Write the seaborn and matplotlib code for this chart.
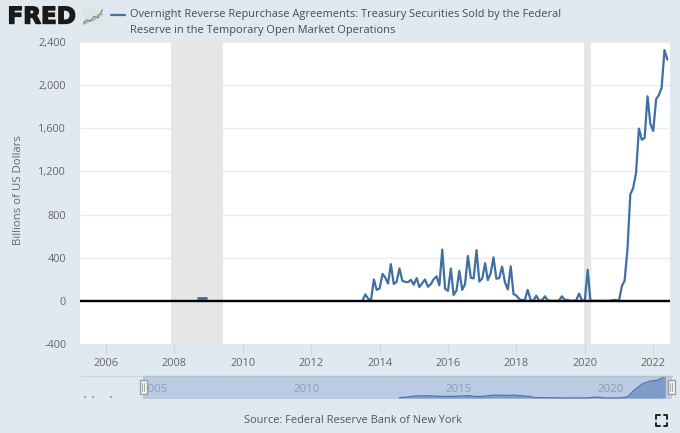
import matplotlib
matplotlib.use("Agg")
import matplotlib.pyplot as plt
import matplotlib.dates as mdates
import matplotlib.patheffects as pe
from matplotlib.patches import Rectangle
import numpy as np
import pandas as pd
import seaborn as sns

title_lines = ["Overnight Reverse Repurchase Agreements: Treasury Securities Sold by the Federal",
               "Reserve in the Temporary Open Market Operations"]
y_label = "Billions of US Dollars"
source = "Source: Federal Reserve Bank of New York"
y_ticks = [-400, 0, 400, 800, 1200, 1600, 2000, 2400]
x_tick_years = [2006, 2008, 2010, 2012, 2014, 2016, 2018, 2020, 2022]
nav_years = [2005, 2010, 2015, 2020]

recessions = [("2007-12-01", "2009-06-01"), ("2019-12-20", "2020-03-10")]
blip_dates = ["2008-09-15", "2008-12-01"]
blip_values = [25, 25]

rrp_values = [
    0, 60, 20, 5, 198, 102, 115, 250, 218, 160, 340, 157, 176, 300, 186, 176, 173, 195, 150, 211,
    128, 163, 198, 131, 154, 200, 227, 144, 475, 112, 93, 300, 54, 96, 278, 102, 154, 416, 214, 208,
    470, 179, 208, 349, 192, 256, 403, 205, 211, 317, 170, 106, 320, 64, 48, 16, 6, 10, 102, 10,
    0, 48, 0, 6, 42, 6, 0, 0, 0, 2, 42, 10, 8, 0, 0, 5, 67, 6, 0, 288,
    5, 0, 0, 0, 0, 0, 0, 0, 8, 6, 5, 140, 186, 480, 986, 1048, 1184, 1597, 1494, 1510,
    1897, 1643, 1575, 1870, 1906, 1978, 2325, 2238,
]
rrp_dates = pd.date_range(end="2022-06-01", periods=len(rrp_values), freq="MS")
rrp = pd.DataFrame({"date": rrp_dates, "value": rrp_values})
blip = pd.DataFrame({"date": pd.to_datetime(blip_dates), "value": blip_values})
rrp_q = rrp.set_index("date")["value"].resample("QS").mean().reset_index()

old_nav_dates = ["2003-03-01", "2003-06-01", "2004-01-01"]
old_nav_values = [110, 110, 110]

sns.set_theme(style="white")
plt.rcParams["font.family"] = ["Open Sans", "DejaVu Sans"]

W, H = 680, 433
BG = "#e1e9f0"
LINE = "#4572a7"
fig = plt.figure(figsize=(W / 100, H / 100), dpi=100, facecolor=BG)

def axes_px(x0, y0, x1, y1, **kw):
    return fig.add_axes([x0 / W, 1 - y1 / H, (x1 - x0) / W, (y1 - y0) / H], **kw)

def yr(y):
    return mdates.date2num(pd.Timestamp(int(y), 1, 1)) + (y - int(y)) * 365.25

# main plot
ax = axes_px(80, 42, 670, 344)
ax.set_facecolor("white")
for s in ax.spines.values():
    s.set_visible(False)
ax.set_ylim(-400, 2400)
ax.set_xlim(yr(2005.24), yr(2022.49))
ax.yaxis.grid(True, color="#ececec", lw=1)
ax.set_axisbelow(True)
for a, b in recessions:
    ax.axvspan(pd.Timestamp(a), pd.Timestamp(b), color="#e6e6e6", lw=0, zorder=1)
sns.lineplot(data=rrp, x="date", y="value", ax=ax, color="#3f6fa3", lw=1.6, zorder=3, legend=False)
sns.lineplot(data=blip, x="date", y="value", ax=ax, color="#3f6fa3", lw=2.0, zorder=3, legend=False)
ax.axhline(0, color="black", lw=1.7, zorder=4)
ax.set_yticks(y_ticks)
ax.set_yticklabels([f"{v:,}" for v in y_ticks], color="#666666", fontsize=7.8)
ax.set_xticks([pd.Timestamp(y, 1, 1) for y in x_tick_years])
ax.set_xticklabels([str(y) for y in x_tick_years], color="#666666", fontsize=7.9)
ax.tick_params(axis="x", length=7, color="#ccd6eb", width=0.8, pad=3, bottom=True)
ax.tick_params(axis="y", length=0, pad=10)
ax.set_xlabel("")
ax.set_ylabel("")
fig.text(18.5 / W, 1 - 190.5 / H, y_label, rotation=90, ha="center", va="center",
         color="#666666", fontsize=8.2)

# navigator
nx0, nx1 = 80, 672
px_per_year = 30.4
nav = axes_px(nx0, 376, nx1, 399)
nav.set_facecolor(BG)
for s in nav.spines.values():
    s.set_visible(False)
to_year = lambda px: 2005 + (px - 141) / px_per_year
nav.set_xlim(yr(to_year(nx0)), yr(to_year(nx1)))
nav.set_ylim(-100, 2200)
nav.axvspan(yr(to_year(143)), yr(to_year(nx1)), color="#bccbe4", lw=0, zorder=1)
nav.fill_between(rrp_q["date"], 0, rrp_q["value"], color="#7f9cc8", lw=0, zorder=2)
sns.lineplot(data=rrp_q, x="date", y="value", ax=nav, color="#4f74ad", lw=0.9, zorder=3, legend=False)
nav.scatter(pd.to_datetime(old_nav_dates), old_nav_values, s=2, color="#9aa7b8", lw=0, marker="s", zorder=3)
nav.set_xticks([])
nav.set_yticks([])
nav.set_xlabel("")
nav.set_ylabel("")
for y in nav_years:
    nav.text(yr(y), 0.42, str(y), transform=nav.get_xaxis_transform(),
             ha="left", va="center", color="#8b9ab8", fontsize=8.2, zorder=2.5)
fig.add_artist(plt.Line2D([80 / W, 143 / W], [1 - 375.5 / H] * 2, color="#cfd5db", lw=1))
fig.add_artist(plt.Line2D([143 / W, 672 / W], [1 - 375.5 / H] * 2, color="#b3c0d6", lw=1))
for hx in (143, 671):
    fig.add_artist(Rectangle(((hx - 3.5) / W, 1 - 394 / H), 7 / W, 14 / H, transform=fig.transFigure,
                             fc="#f2f2f2", ec="#999999", lw=0.9, zorder=6))
    fig.add_artist(plt.Line2D([(hx - 0.8) / W] * 2, [1 - 391 / H, 1 - 383 / H], color="#999999", lw=0.6, zorder=7))
    fig.add_artist(plt.Line2D([(hx + 0.8) / W] * 2, [1 - 391 / H, 1 - 383 / H], color="#999999", lw=0.6, zorder=7))

# header
fig.text(7.5 / W, 1 - 17 / H, "FRED", ha="left", va="center", fontsize=16.6, fontweight="bold",
         family="DejaVu Sans", color="#1a1a1a",
         path_effects=[pe.withStroke(linewidth=1.0, foreground="#1a1a1a")])
logo = axes_px(83, 8, 103, 25)
logo.axis("off")
logo.add_patch(Rectangle((0, 0), 1, 1, transform=logo.transAxes, fc="#dde4e6", ec="none"))
logo_x = [0.02, 0.2, 0.38, 0.55, 0.75, 0.98]
logo.plot(logo_x, [0.12, 0.3, 0.22, 0.5, 0.42, 0.9], color="#5f7f8f", lw=0.8)
logo.plot(logo_x, [0.05, 0.15, 0.32, 0.28, 0.6, 0.62], color="#8fae7a", lw=0.8)
logo.set_xlim(0, 1)
logo.set_ylim(0, 1)
fig.add_artist(plt.Line2D([111 / W, 125 / W], [1 - 15 / H] * 2, color=LINE, lw=1.6))
fig.text(130.5 / W, 1 - 15 / H, title_lines[0], ha="left", va="center", fontsize=7.95, color="#4a4a4a")
fig.text(130.5 / W, 1 - 30 / H, title_lines[1], ha="left", va="center", fontsize=7.95, color="#4a4a4a")
fig.text(353 / W, 1 - 420.5 / H, source, ha="center", va="center", fontsize=7.95, color="#555555")

# full-screen icon corners
cx0, cx1, cy0, cy1 = 656, 667, 415, 426
for xc, yc, dx, dy in [(cx0, cy0, 1, 1), (cx1, cy0, -1, 1), (cx0, cy1, 1, -1), (cx1, cy1, -1, -1)]:
    fig.add_artist(plt.Line2D([(xc + 3.5 * dx) / W, xc / W, xc / W],
                              [1 - yc / H, 1 - yc / H, 1 - (yc + 3.5 * dy) / H], color="#222222", lw=1.4))

fig.savefig("out.png", dpi=100, facecolor=BG)
